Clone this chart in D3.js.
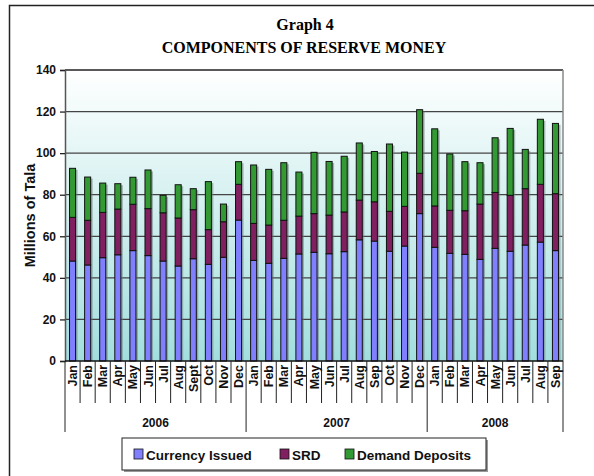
<!DOCTYPE html>
<html>
<head>
<meta charset="utf-8">
<script src="https://cdn.jsdelivr.net/npm/d3@7"></script>
<style>
  body { margin: 0; background: #fff; }
  svg text { font-family: "Liberation Sans", Arial, sans-serif; font-weight: bold; }
</style>
</head>
<body>
<div id="main"></div>
<script>
// months on the category axis
const months = ["Jan","Feb","Mar","Apr","May","Jun","Jul","Aug","Sept","Oct","Nov","Dec",
  "Jan","Feb","Mar","Apr","May","Jun","Jul","Aug","Sep","Oct","Nov","Dec",
  "Jan","Feb","Mar","Apr","May","Jun","Jul","Aug","Sep"]
const years = ["2006", "2007", "2008"]
const yearCounts = [12, 12, 9]

// values, millions of tala
const currency = [48.1,46.2,49.7,51.1,53.1,50.7,48.1,45.7,49.2,46.5,49.9,67.8,
  48.4,47.0,49.4,51.5,52.3,51.6,52.6,58.3,57.7,52.8,55.3,70.9,
  54.7,51.8,51.3,48.9,54.2,52.8,55.8,57.2,53.1]
const srd = [21.0,21.5,21.8,22.0,22.3,22.6,23.2,23.1,23.6,16.7,17.1,17.2,
  17.8,18.4,18.3,18.2,18.6,18.6,19.1,19.1,18.9,19.2,19.1,19.4,
  19.9,20.7,21.0,26.6,26.9,26.9,27.1,27.8,27.4]
const demand = [23.6,20.8,14.1,12.2,13.0,18.6,8.4,16.0,10.1,23.1,8.5,10.9,
  28.1,26.8,27.7,21.2,29.5,25.8,26.8,27.5,24.2,32.4,26.1,30.6,
  37.1,27.1,23.6,19.9,26.3,32.2,18.9,31.3,33.8]

const seriesNames = ["Currency Issued", "SRD", "Demand Deposits"]
const seriesColors = ["#8080ff", "#802060", "#339933"]
const yTicks = [0, 20, 40, 60, 80, 100, 120, 140]

let W = 594, H = 476
let plot = {left: 65, right: 563, top: 70, bottom: 361}

let svg = d3.select("#main").append("svg")
  .attr("width", W).attr("height", H)

// outer frame
svg.append("rect")
  .attr("x", 9.5).attr("y", 5.5)
  .attr("width", 600).attr("height", 500)
  .attr("fill", "white").attr("stroke", "#222").attr("stroke-width", 1.5)

let defs = svg.append("defs")
let grad = defs.append("linearGradient").attr("id", "bg")
  .attr("x1", 0).attr("y1", 0).attr("x2", 0).attr("y2", 1)
grad.append("stop").attr("offset", "0%").attr("stop-color", "#ffffff")
grad.append("stop").attr("offset", "100%").attr("stop-color", "#a2dede")

let x = d3.scaleBand()
  .domain(d3.range(months.length))
  .range([plot.left, plot.right])
  .paddingInner(0.6).paddingOuter(0.3)

let y = d3.scaleLinear()
  .domain([0, 140])
  .range([plot.bottom, plot.top])

// plot background
svg.append("rect")
  .attr("x", plot.left).attr("y", plot.top)
  .attr("width", plot.right - plot.left).attr("height", plot.bottom - plot.top)
  .attr("fill", "url(#bg)")

// gridlines
svg.append("g")
  .selectAll("line")
  .data(yTicks.slice(1))
  .enter().append("line")
    .attr("x1", plot.left).attr("x2", plot.right)
    .attr("y1", d => y(d)).attr("y2", d => y(d))
    .attr("stroke", d => d == 140 ? "#222" : "#444")
    .attr("stroke-width", 1.3)

// right edge of plot
svg.append("line")
  .attr("x1", plot.right).attr("x2", plot.right)
  .attr("y1", plot.top).attr("y2", plot.bottom)
  .attr("stroke", "#888").attr("stroke-width", 1.5)

// stack
const rows = months.map((m, i) => ({i: i, c: currency[i], s: srd[i], d: demand[i]}))
const stack = d3.stack().keys(["c", "s", "d"])(rows)

// shadows
svg.append("g")
  .selectAll("rect")
  .data(rows)
  .enter().append("rect")
    .attr("x", d => x(d.i) + 1.5)
    .attr("y", d => y(d.c + d.s + d.d) + 1.5)
    .attr("width", x.bandwidth() + 0.5)
    .attr("height", d => plot.bottom - y(d.c + d.s + d.d) - 1.5)
    .attr("fill", "#6a7c7c").attr("opacity", 0.55)

svg.append("g")
  .selectAll("g")
  .data(stack)
  .enter().append("g")
    .attr("fill", (d, k) => seriesColors[k])
  .selectAll("rect")
  .data(d => d)
  .enter().append("rect")
    .attr("x", d => x(d.data.i))
    .attr("y", d => y(d[1]))
    .attr("width", x.bandwidth())
    .attr("height", d => y(d[0]) - y(d[1]))
    .attr("stroke", "#111").attr("stroke-width", 1)

// y axis
let yAxis = svg.append("g")
  .attr("transform", `translate(${plot.left},0)`)
  .call(d3.axisLeft(y).tickValues(yTicks).tickSize(5).tickPadding(4))
yAxis.select(".domain").attr("stroke", "#555").attr("stroke-width", 1.5)
yAxis.selectAll(".tick line").attr("stroke", "#222").attr("stroke-width", 1.3)
yAxis.selectAll("text").attr("font-size", 12).attr("fill", "#111")
  .style("font-family", "'Liberation Sans', Arial, sans-serif").style("font-weight", "bold")

// zero line
svg.append("line")
  .attr("x1", plot.left).attr("x2", plot.right)
  .attr("y1", plot.bottom).attr("y2", plot.bottom)
  .attr("stroke", "#111").attr("stroke-width", 1.5)

// month separators and labels
const edge = i => plot.left + i * (plot.right - plot.left) / months.length
const yearEdges = Array.from(d3.cumsum(yearCounts))

svg.append("g")
  .selectAll("line")
  .data(d3.range(months.length + 1))
  .enter().append("line")
    .attr("x1", edge).attr("x2", edge)
    .attr("y1", plot.bottom)
    .attr("y2", i => (i == 0 || yearEdges.includes(i)) ? 432 : 403)
    .attr("stroke", "#222").attr("stroke-width", 1)

svg.append("g")
  .selectAll("text")
  .data(months)
  .enter().append("text")
    .attr("transform", (d, i) => `translate(${x(i) + x.bandwidth() / 2 + 4.5},365) rotate(-90)`)
    .attr("text-anchor", "end")
    .attr("font-size", 12.5)
    .attr("fill", "#111")
    .text(d => d)

// year labels
let start = 0
years.forEach((yr, k) => {
  let a = edge(start), b = edge(start + yearCounts[k])
  svg.append("text")
    .attr("x", (a + b) / 2).attr("y", 427)
    .attr("text-anchor", "middle")
    .attr("font-size", 12)
    .attr("fill", "#111")
    .text(yr)
  start += yearCounts[k]
})

// y axis title
svg.append("text")
  .attr("transform", `translate(35,${(plot.top + plot.bottom) / 2}) rotate(-90)`)
  .attr("text-anchor", "middle")
  .attr("font-size", 14.5)
  .attr("fill", "#111")
  .text("Millions of Tala")

// title
svg.append("text")
  .attr("x", 305).attr("y", 30)
  .attr("text-anchor", "middle")
  .attr("font-size", 16)
  .style("font-family", "'Liberation Serif', 'Times New Roman', serif")
  .text("Graph 4")
svg.append("text")
  .attr("x", 304).attr("y", 53)
  .attr("text-anchor", "middle")
  .attr("font-size", 16)
  .style("font-family", "'Liberation Serif', 'Times New Roman', serif")
  .text("COMPONENTS OF RESERVE MONEY")

// legend
let lg = svg.append("g")
lg.append("rect")
  .attr("x", 124).attr("y", 440).attr("width", 364).attr("height", 32)
  .attr("fill", "#999")
lg.append("rect")
  .attr("x", 122).attr("y", 438).attr("width", 364).attr("height", 32)
  .attr("fill", "white").attr("stroke", "#222").attr("stroke-width", 1)

const legendX = [134, 280, 345]
seriesNames.forEach((name, k) => {
  lg.append("rect")
    .attr("x", legendX[k]).attr("y", 449)
    .attr("width", 9).attr("height", 10)
    .attr("fill", seriesColors[k]).attr("stroke", "#111").attr("stroke-width", 0.8)
  lg.append("text")
    .attr("x", legendX[k] + 12).attr("y", 460)
    .attr("font-size", 13.5)
    .attr("fill", "#111")
    .text(name)
})
</script>
</body>
</html>
